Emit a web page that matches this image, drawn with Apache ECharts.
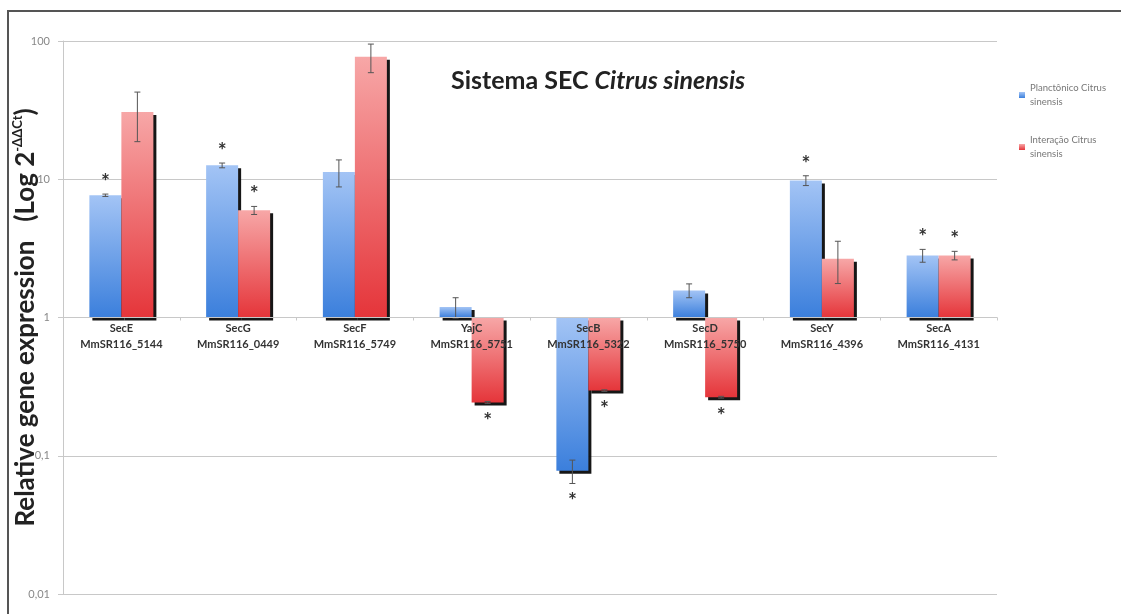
<!DOCTYPE html>
<html>
<head>
<meta charset="utf-8">
<script src="https://cdn.jsdelivr.net/npm/echarts@6/dist/echarts.min.js"></script>
<style>
  html, body { margin: 0; padding: 0; background: #fff; }
  #chart { width: 1121px; height: 614px; }
</style>
</head>
<body>
<div id="chart"></div>
<script>
// genes (two-line labels)
const categories = [
  "SecE\nMmSR116_5144",
  "SecG\nMmSR116_0449",
  "SecF\nMmSR116_5749",
  "YajC\nMmSR116_5751",
  "SecB\nMmSR116_5322",
  "SecD\nMmSR116_5750",
  "SecY\nMmSR116_4396",
  "SecA\nMmSR116_4131",
];
const seriesNames = ["Planctônico Citrus sinensis", "Interação Citrus sinensis"];

// relative expression (2^-ddCt)
const planctonico = [7.66, 12.6, 11.3, 1.19, 0.078, 1.57, 9.8, 2.81];
const planctonicoErr = [0.15, 0.5, 2.5, 0.2, 0.015, 0.18, 0.8, 0.3];
const interacao = [30.7, 5.96, 77, 0.243, 0.296, 0.265, 2.66, 2.81];
const interacaoErr = [12, 0.4, 18, 0.004, 0.004, 0.004, 0.9, 0.2];

// significance stars (1 = *)
const planctonicoSig = [1, 1, 0, 0, 1, 0, 1, 1];
const interacaoSig = [0, 1, 0, 1, 1, 1, 0, 1];

const yTickLabels = ["0,01", "0,1", "1", "10", "100"];

const FONT = "Lato, 'Open Sans', sans-serif";
const BAR_W = 32;
const GRID_TOP = 41, GRID_BOTTOM = 20;

const chart = echarts.init(document.getElementById("chart"));

const barStyle = (top, bottom) => ({
  color: new echarts.graphic.LinearGradient(0, 0, 0, 1, [
    { offset: 0, color: top },
    { offset: 1, color: bottom },
  ]),
  shadowColor: "rgba(10,10,10,0.95)",
  shadowOffsetX: 3,
  shadowOffsetY: 3,
  shadowBlur: 0,
});

// error bars + stars, shifted to the bar's center
const errorSeries = (vals, errs, sig, side) => ({
  type: "custom",
  z: 5,
  silent: true,
  encode: { x: 0, y: 1 },
  data: vals.map((v, i) => [i, v, errs[i], sig[i]]),
  renderItem: (params, api) => {
    const i = api.value(0);
    const v = api.value(1);
    const e = api.value(2);
    const dx = side * BAR_W / 2;
    const hi = api.coord([i, v + e]);
    const lo = api.coord([i, v - e]);
    const x = hi[0] + dx;
    const cap = 3;
    const style = { stroke: "#555", lineWidth: 1 };
    const children = [
      { type: "line", shape: { x1: x, y1: hi[1], x2: x, y2: lo[1] }, style },
      { type: "line", shape: { x1: x - cap, y1: hi[1], x2: x + cap, y2: hi[1] }, style },
      { type: "line", shape: { x1: x - cap, y1: lo[1], x2: x + cap, y2: lo[1] }, style },
    ];
    if (api.value(3)) {
      const up = v >= 1;
      children.push({
        type: "text",
        style: {
          text: "*",
          x: x,
          y: up ? hi[1] - 12 : lo[1] + 18,
          align: "center",
          verticalAlign: "middle",
          font: "bold 21px " + FONT,
          fill: "#333",
        },
      });
    }
    return { type: "group", children };
  },
});

const option = {
  animation: false,
  backgroundColor: "#fff",
  textStyle: { fontFamily: FONT },
  graphic: [
    {
      type: "rect",
      shape: { x: 8, y: 11, width: 1130, height: 620 },
      style: { fill: "none", stroke: "#555", lineWidth: 2 },
      silent: true,
    },
  ],
  title: {
    text: "{a|Sistema SEC }{b|Citrus sinensis}",
    left: 446,
    top: 63,
    textStyle: {
      rich: {
        a: { fontFamily: FONT, fontSize: 25, fontWeight: "bold", color: "#222" },
        b: { fontFamily: FONT, fontSize: 25, fontWeight: "bold", fontStyle: "italic", color: "#222" },
      },
    },
  },
  legend: {
    orient: "vertical",
    left: 1014,
    top: 76,
    itemWidth: 6,
    itemHeight: 6,
    itemGap: 24,
    icon: "rect",
    data: seriesNames,
    formatter: (n) => n.replace(" sinensis", "\nsinensis"),
    textStyle: { fontSize: 9.5, color: "#777", lineHeight: 14, fontFamily: FONT },
  },
  grid: {
    left: 63, right: 124, top: GRID_TOP, bottom: GRID_BOTTOM,
    outerBoundsMode: "none",
    containLabel: false,
  },
  xAxis: {
    type: "category",
    data: categories,
    z: 10,
    offset: -(614 - GRID_TOP - GRID_BOTTOM) / 2,
    axisLine: { show: true, lineStyle: { color: "#c8c8c8" } },
    axisTick: { show: true, length: 3, lineStyle: { color: "#c8c8c8" } },
    axisLabel: {
      interval: 0,
      margin: 3,
      fontSize: 11,
      fontWeight: "bold",
      color: "#333",
      lineHeight: 16,
      fontFamily: FONT,
    },
    splitLine: { show: false },
  },
  yAxis: {
    type: "log",
    logBase: 10,
    min: 0.01,
    max: 100,
    name: "{a|Relative gene expression   (Log 2}{b|-ΔΔCt}{a|)}",
    nameLocation: "middle",
    nameGap: 22,
    nameMoveOverlap: false,
    nameTextStyle: {
      rich: {
        a: { fontFamily: FONT, fontSize: 26, fontWeight: "bold", color: "#222", lineHeight: 30 },
        b: { fontFamily: FONT, fontSize: 13, fontWeight: "bold", color: "#222", verticalAlign: "top", lineHeight: 30 },
      },
    },
    axisLine: { show: true, lineStyle: { color: "#c8c8c8" } },
    axisTick: { show: true, length: 5, lineStyle: { color: "#c8c8c8" } },
    axisLabel: {
      fontSize: 11,
      color: "#888",
      margin: 13,
      fontFamily: FONT,
      formatter: (v) => yTickLabels[Math.round(Math.log10(v)) + 2],
    },
    splitLine: { show: true, lineStyle: { color: "#c8c8c8" } },
  },
  series: [
    {
      name: seriesNames[0],
      type: "bar",
      barWidth: BAR_W,
      barGap: "0%",
      data: planctonico,
      itemStyle: barStyle("#a3c4f5", "#3b7fdc"),
    },
    {
      name: seriesNames[1],
      type: "bar",
      barWidth: BAR_W,
      barGap: "0%",
      data: interacao,
      itemStyle: barStyle("#f7a7a7", "#e5353a"),
    },
    errorSeries(planctonico, planctonicoErr, planctonicoSig, -1),
    errorSeries(interacao, interacaoErr, interacaoSig, 1),
  ],
};

chart.setOption(option);
</script>
</body>
</html>
